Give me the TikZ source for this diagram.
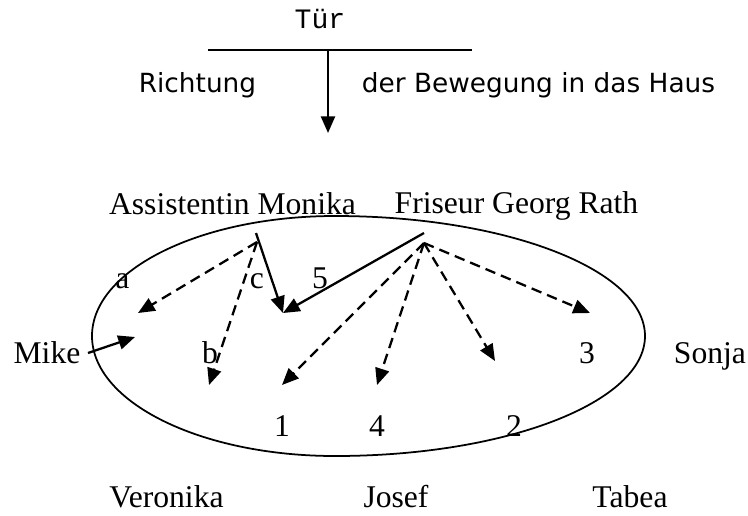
\documentclass[tikz,border=0pt]{standalone}
\usepackage{fontspec}
\setmainfont{Liberation Serif}
\newfontfamily\doorfont{Liberation Mono}
\newfontfamily\notefont{DejaVu Sans}
\usetikzlibrary{arrows.meta}

\begin{document}
\begin{tikzpicture}
            [x=0.02cm, y=-0.02cm,
                person/.style={anchor=base, inner sep=0pt, font=\fontsize{18}{21}\selectfont},
                note/.style={anchor=base, inner sep=0pt, font=\notefont\fontsize{15}{18}\selectfont},
                walk/.style={-{Triangle[length=9.5pt,width=8pt]}, line width=1.3pt, black},
                plan/.style={walk, dash pattern=on 6pt off 3.5pt},
                salon/.style={line width=1pt, black}]
            \useasboundingbox (0,0) rectangle (748,515);

            %the door and the way into the house
            \node[anchor=base, inner sep=0pt, font=\doorfont\fontsize{16}{18}\selectfont] (door) at (320,28) {Tür};
            \coordinate (doorL) at (208,50);
            \coordinate (doorR) at (472,50);
            \coordinate (doorM) at (328,50);
            \coordinate (inside) at (328,133);
            \draw[line width=1.3pt] (doorL) -- (doorR);
            \draw[walk] (doorM) -- (inside);
            \node[note] (dir) at (197.5,92) {Richtung};
            \node[note] (dirrest) at (538.5,92) {der Bewegung in das Haus};

            %the salon: right half wider than left half
            \coordinate (salonTop) at (335,216);
            \draw[salon] (salonTop) arc[start angle=-90, end angle=90, x radius=310, y radius=120]
                arc[start angle=90, end angle=270, x radius=243, y radius=120] -- cycle;

            %the people round the salon
            \node[person] (monika) at (232.5,214) {Assistentin Monika};
            \node[person] (georg) at (516.5,213) {Friseur Georg Rath};
            \node[person] (mike) at (47,363) {Mike};
            \node[person] (sonja) at (710,363) {Sonja};
            \node[person] (veronika) at (166.5,507) {Veronika};
            \node[person] (josef) at (396,507) {Josef};
            \node[person] (tabea) at (630,507) {Tabea};

            %labels of the ways
            \node[person] (la) at (122.5,288) {a};
            \node[person] (lb) at (210,363) {b};
            \node[person] (lc) at (257,288) {c};
            \node[person] (l5) at (320,288) {5};
            \node[person] (l1) at (282,436) {1};
            \node[person] (l4) at (377,436) {4};
            \node[person] (l2) at (514,436) {2};
            \node[person] (l3) at (587,363) {3};

            %start and end points of the ways
            \coordinate (monikaS) at (256,233);
            \coordinate (monikaD) at (257,242);
            \coordinate (georgS) at (424,233);
            \coordinate (georgD) at (424,243);
            \coordinate (chair) at (283,313);
            \coordinate (toA) at (138,313);
            \coordinate (toB) at (209,385);
            \coordinate (to1) at (282,385);
            \coordinate (to4) at (377,385);
            \coordinate (to2) at (495,361);
            \coordinate (to3) at (590,313);
            \coordinate (mikeS) at (88,353);
            \coordinate (mikeT) at (135,337);

            %the ways
            \draw[walk] (monikaS) -- (chair);
            \draw[walk] (georgS) -- (chair);
            \draw[walk] (mikeS) -- (mikeT);
            \draw[plan] (monikaD) -- (toA);
            \draw[plan] (monikaD) -- (toB);
            \draw[plan] (georgD) -- (to1);
            \draw[plan] (georgD) -- (to4);
            \draw[plan] (georgD) -- (to2);
            \draw[plan] (georgD) -- (to3);
        \end{tikzpicture}
\end{document}
